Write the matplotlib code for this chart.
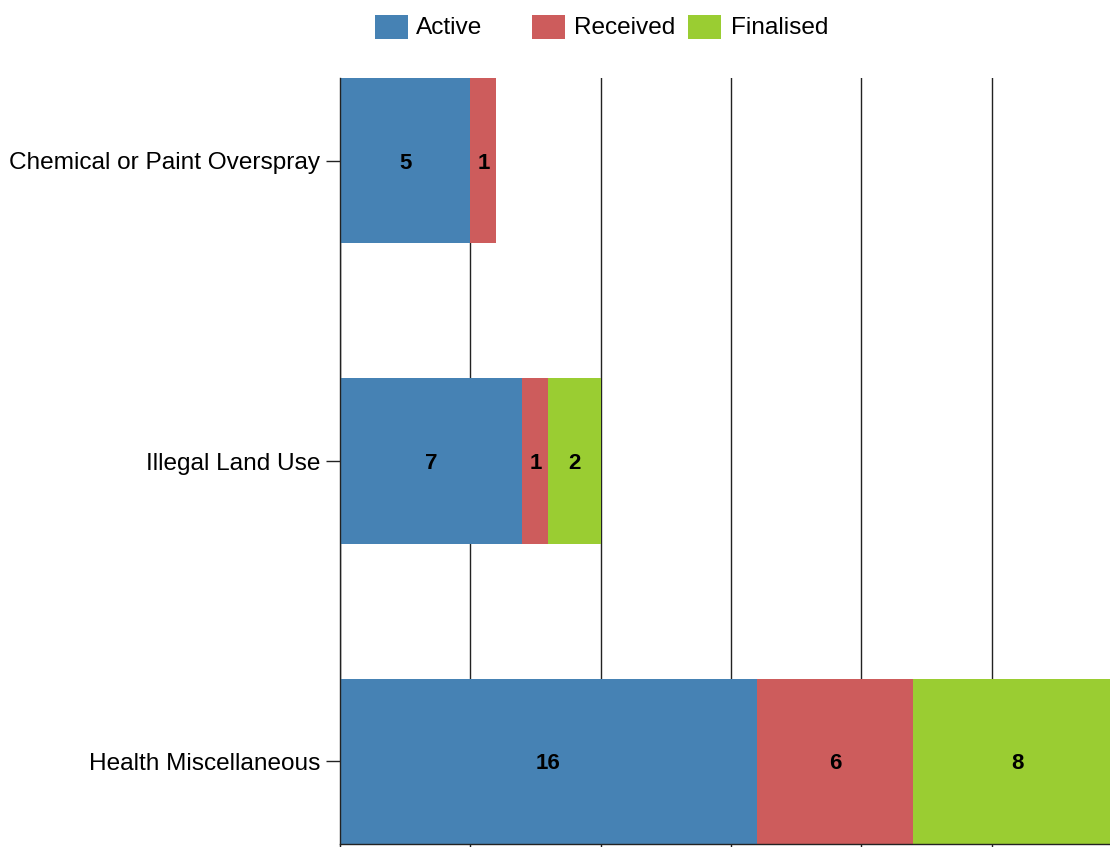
import matplotlib.pyplot as plt
from matplotlib.patches import Rectangle

categories = ['Chemical or Paint Overspray', 'Illegal Land Use', 'Health Miscellaneous']
active = [5, 7, 16]
received = [1, 1, 6]
finalised = [0, 2, 8]
series_names = ['Active', 'Received', 'Finalised']
colors = ['#4682B4', '#CD5C5C', '#9ACD32']

plt.rcParams['font.family'] = ['Liberation Sans', 'DejaVu Sans']

W, H = 1110, 847
fig = plt.figure(figsize=(W / 100, H / 100), dpi=100)
# axes from x=340 to past the right edge, y=78 to 844 (pixels)
ax = fig.add_axes([340 / W, 3 / H, 1 - 340 / W, (844 - 78) / H])

ypos = list(range(len(categories)))
left = [0] * len(categories)
for name, vals, col in zip(series_names, [active, received, finalised], colors):
    ax.barh(ypos, vals, left=left, height=0.55, color=col, zorder=2)
    # value labels in the middle of each segment (also for the clipped one)
    for y, l, v in zip(ypos, left, vals):
        if v > 0:
            ax.text(l + v / 2, y + 0.008, str(v), ha='center', va='center',
                    fontsize=16, fontweight='bold', color='black', zorder=4)
    left = [a + b for a, b in zip(left, vals)]

ax.set_ylim(2.275, -0.275)
ax.set_xlim(0, 770 / 26.06)
ax.set_yticks(ypos)
ax.set_yticklabels(categories, fontsize=17.6)
ax.set_xticks(range(0, 30, 5))
ax.tick_params(axis='x', labelbottom=False, length=7, width=1, color='#222222')
ax.tick_params(axis='y', length=10, width=1, pad=4, color='#222222')
ax.grid(axis='x', color='#222222', linewidth=1, zorder=1)
ax.set_axisbelow(True)
for s in ['top', 'right']:
    ax.spines[s].set_visible(False)
for s in ['left', 'bottom']:
    ax.spines[s].set_color('#222222')
    ax.spines[s].set_linewidth(1)
    ax.spines[s].set_zorder(3)

# legend drawn by hand to keep the uneven spacing
legend_x = [(375, 416), (532, 574), (688, 731)]
for (bx, tx), name, col in zip(legend_x, series_names, colors):
    fig.add_artist(Rectangle((bx / W, (H - 39) / H), 33 / W, 24 / H,
                             transform=fig.transFigure, facecolor=col, edgecolor='none'))
    fig.text(tx / W, (H - 28) / H, name, fontsize=17.6, va='center', ha='left')

fig.savefig('out.png', dpi=100)
